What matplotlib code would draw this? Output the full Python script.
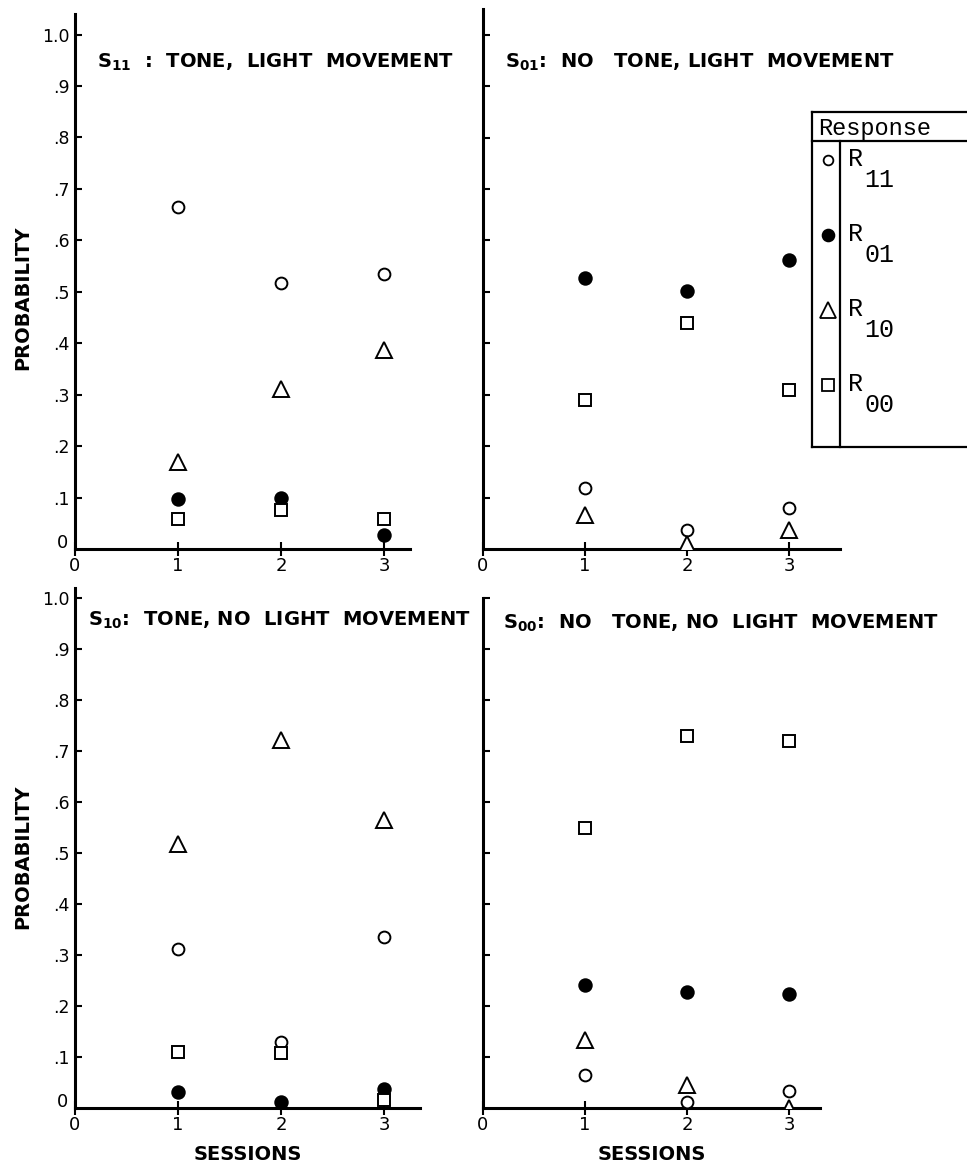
import matplotlib
matplotlib.use("Agg")
import matplotlib.pyplot as plt

sessions = [1, 2, 3]

# S11 : tone, light movement
s11_r11 = [0.665, 0.518, 0.534]
s11_r01 = [0.098, 0.100, 0.028]
s11_r10 = [0.170, 0.311, 0.387]
s11_r00 = [0.059, 0.075, 0.059]

# S01 : no tone, light movement
s01_r11 = [0.119, 0.036, 0.080]
s01_r01 = [0.526, 0.502, 0.561]
s01_r10 = [0.067, 0.010, 0.036]
s01_r00 = [0.290, 0.439, 0.309]

# S10 : tone, no light movement
s10_r11 = [0.312, 0.130, 0.336]
s10_r01 = [0.032, 0.011, 0.038]
s10_r10 = [0.518, 0.721, 0.564]
s10_r00 = [0.110, 0.107, 0.016]

# S00 : no tone, no light movement
s00_r11 = [0.065, 0.011, 0.034]
s00_r01 = [0.241, 0.228, 0.223]
s00_r10 = [0.133, 0.046, 0.000]
s00_r00 = [0.549, 0.729, 0.719]

panel_titles = [("11", "  :  TONE,  LIGHT  MOVEMENT"),
                ("01", ":  NO   TONE, LIGHT  MOVEMENT"),
                ("10", ":  TONE, NO  LIGHT  MOVEMENT"),
                ("00", ":  NO   TONE, NO  LIGHT  MOVEMENT")]
response_labels = ["11", "01", "10", "00"]
y_ticks = [0.1, 0.2, 0.3, 0.4, 0.5, 0.6, 0.7, 0.8, 0.9, 1.0]
y_ticklabels = [".1", ".2", ".3", ".4", ".5", ".6", ".7", ".8", ".9", "1.0"]
x_ticks = [0, 1, 2, 3]
x_ticklabels = ["0", "1", "2", "3"]

W, H = 967, 1165
fig = plt.figure(figsize=(W / 100, H / 100), dpi=100)

def px_axes(left, right, bottom, top):
    return fig.add_axes([left / W, (H - bottom) / H, (right - left) / W, (bottom - top) / H])

# (left, right, bottom, top) pixel boxes and limits
specs = [
    dict(box=(75, 410, 549, 14), xlim=3.25, ylim=1.04, ylab=True, xlab=False,
         title=(0.066, 0.910, 14.0), ylabpos=(-0.128, 0.469)),
    dict(box=(483, 840, 549, 9), xlim=3.5, ylim=1.05, ylab=False, xlab=False,
         title=(0.062, 0.902, 14.0), ylabpos=None),
    dict(box=(75, 420, 1108, 588), xlim=3.35, ylim=1.02, ylab=True, xlab=True,
         title=(0.038, 0.938, 14.0), ylabpos=(-0.125, 0.483)),
    dict(box=(483, 820, 1108, 598), xlim=3.3, ylim=1.0, ylab=False, xlab=True,
         title=(0.06, 0.951, 14.0), ylabpos=None),
]
data = [
    (s11_r11, s11_r01, s11_r10, s11_r00),
    (s01_r11, s01_r01, s01_r10, s01_r00),
    (s10_r11, s10_r01, s10_r10, s10_r00),
    (s00_r11, s00_r01, s00_r10, s00_r00),
]

mk = dict(linestyle="none", color="black", markeredgewidth=1.4)

for i, (sp, d) in enumerate(zip(specs, data)):
    ax = px_axes(*sp["box"])
    r11, r01, r10, r00 = d
    ax.plot(sessions, r11, marker="o", markersize=8.5, markerfacecolor="white", **mk, zorder=3)
    ax.plot(sessions, r01, marker="o", markersize=9, markerfacecolor="black", **mk, zorder=3)
    ax.plot(sessions, r10, marker="^", markersize=12, markerfacecolor="white", **mk, zorder=3)
    ax.plot(sessions, r00, marker="s", markersize=9, markerfacecolor="white", **mk, zorder=3)
    ax.set_xlim(0, sp["xlim"])
    ax.set_ylim(0, sp["ylim"])
    for s in ("top", "right"):
        ax.spines[s].set_visible(False)
    for s in ("left", "bottom"):
        ax.spines[s].set_linewidth(2.2)
    ax.set_yticks(y_ticks)
    if sp["ylab"]:
        ax.set_yticklabels(y_ticklabels, fontsize=12.5)
    else:
        ax.set_yticklabels([])
    ax.tick_params(axis="y", direction="in", length=5, width=1.5, pad=4)
    ax.set_xticks(x_ticks)
    ax.set_xticklabels(x_ticklabels, fontsize=13)
    ax.tick_params(axis="x", direction="inout", length=10, width=1.5, pad=1)
    if sp["ylab"]:
        ax.text(-0.02, 0.012, "0", transform=ax.transAxes, ha="right", va="center", fontsize=13)
        ax.set_ylabel("PROBABILITY", fontsize=14, fontweight="bold")
        ax.yaxis.set_label_coords(*sp["ylabpos"])
    if sp["xlab"]:
        ax.set_xlabel("SESSIONS", fontsize=14, fontweight="bold", labelpad=8)
    sub, rest = panel_titles[i]
    tx, ty, fs = sp["title"]
    ax.text(tx, ty, r"$\mathbf{S_{%s}}$" % sub + rest, transform=ax.transAxes,
            ha="left", va="center", fontsize=fs, fontweight="bold", clip_on=False)

# Legend box (table style)
lg = px_axes(812, 967, 447, 112)
lg.set_xlim(0, 155)
lg.set_ylim(335, 0)
lg.axis("off")
lw = 1.6
lg.plot([0, 155], [0, 0], color="black", lw=lw, clip_on=False)
lg.plot([0, 155], [29, 29], color="black", lw=lw, clip_on=False)
lg.plot([0, 155], [335, 335], color="black", lw=lw, clip_on=False)
lg.plot([0, 0], [0, 335], color="black", lw=lw, clip_on=False)
lg.plot([28, 28], [29, 335], color="black", lw=lw, clip_on=False)
lg.text(6, 16, "Response", fontsize=17, family="Liberation Mono", va="center", ha="left")
legend_styles = [dict(marker="o", markersize=7, markerfacecolor="white"),
                 dict(marker="o", markersize=8.5, markerfacecolor="black"),
                 dict(marker="^", markersize=11, markerfacecolor="white"),
                 dict(marker="s", markersize=8, markerfacecolor="white")]
for k, (lab, st) in enumerate(zip(response_labels, legend_styles)):
    yy = 48 + k * 75
    lg.plot([16], [yy], linestyle="none", color="black", markeredgewidth=1.3, clip_on=False, **st)
    lg.text(36, yy - 1, "R", fontsize=18, family="Liberation Mono", va="center", ha="left")
    lg.text(52, yy + 20, lab, fontsize=18, family="Liberation Mono", va="center", ha="left")

fig.savefig("out.png", dpi=100)
